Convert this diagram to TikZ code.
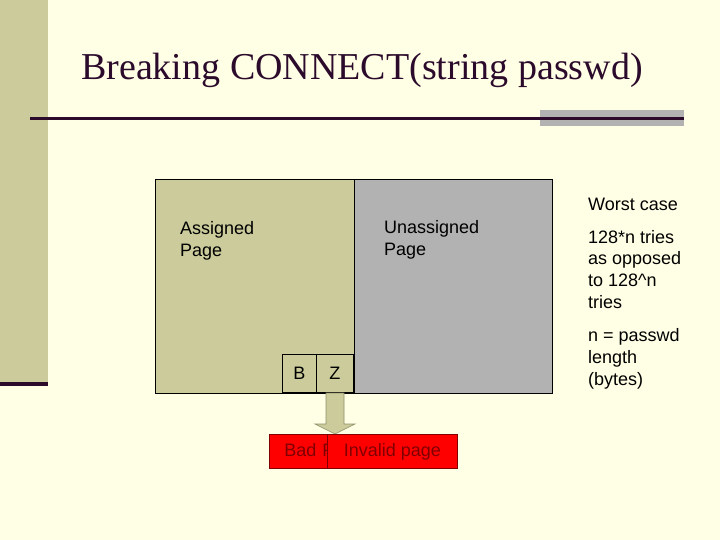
\documentclass[tikz,border=0pt]{standalone}
\usepackage{fontspec}
\setmainfont{Liberation Serif}
\setsansfont{Liberation Sans}
\definecolor{bgc}{HTML}{FFFFE5}
\definecolor{khaki}{HTML}{CBCB9B}
\definecolor{graybox}{HTML}{B2B2B2}
\definecolor{titlec}{HTML}{2B0A2B}
\definecolor{darkred}{HTML}{800000}
\tikzset{
  lbl/.style={font=\sffamily\fontsize{18}{21.6}\selectfont, align=left, inner sep=0pt, anchor=base west},
  cell/.style={draw=black, line width=0.8pt, fill=khaki, minimum width=37pt, minimum height=38pt, inner sep=0pt, font=\sffamily\fontsize{18}{21.6}\selectfont},
  redbox/.style={draw=darkred, line width=0.8pt, fill=red, inner sep=0pt, minimum height=34pt, text=darkred, font=\sffamily\fontsize{18}{21.6}\selectfont}
}
\begin{document}
\begin{tikzpicture}[x=1pt,y=-1pt]
\useasboundingbox (0,0) rectangle (720,540);
\fill[bgc] (0,0) rectangle (720,540);
% left bar
\fill[khaki] (0,0) rectangle (48,382);
\fill[titlec] (0,382) rectangle (48,386);
% title
\node[anchor=base west, inner sep=0pt, text=titlec, font=\fontsize{38}{44}\selectfont] (title) at (81,80) {Breaking CONNECT(string passwd)};
% rule
\fill[graybox] (540,110) rectangle (684,126);
\fill[titlec] (30,117) rectangle (684,120);
% pages
\node[draw=black, line width=0.8pt, fill=khaki, minimum width=199pt, minimum height=214pt, inner sep=0pt, anchor=north west] (assigned) at (155,179) {};
\node[draw=black, line width=0.8pt, fill=graybox, minimum width=198pt, minimum height=214pt, inner sep=0pt, anchor=north west] (unassigned) at (354,179) {};
\node[lbl] (atext) at (180,256) {Assigned\\Page};
\node[lbl] (utext) at (384,255) {Unassigned\\Page};
% cells
\node[cell, minimum width=34pt, anchor=south west] (B) at (282,393) {B};
\node[cell, anchor=south west] (Z) at (316,393) {Z};
% arrow
\draw[line width=0.6pt, draw=khaki!70!black, fill=khaki] (326,393) -- (344,393) -- (344,424) -- (355,424) -- (335,434) -- (315,424) -- (326,424) -- cycle;
% red boxes
\node[redbox, text width=120pt, align=left, anchor=north west] (bad) at (269,434) {\hspace*{15pt}Bad Page};
\node[redbox, minimum width=130pt, anchor=north west] (invalid) at (327,434) {Invalid page};
% right text
\node[lbl] (worst) at (588,211) {Worst case};
\node[lbl] (tries) at (588,308) {128*n tries\\as opposed\\to 128\^{}n\\tries};
\node[lbl] (nlen) at (588,385) {n = passwd\\length\\(bytes)};
\end{tikzpicture}
\end{document}
